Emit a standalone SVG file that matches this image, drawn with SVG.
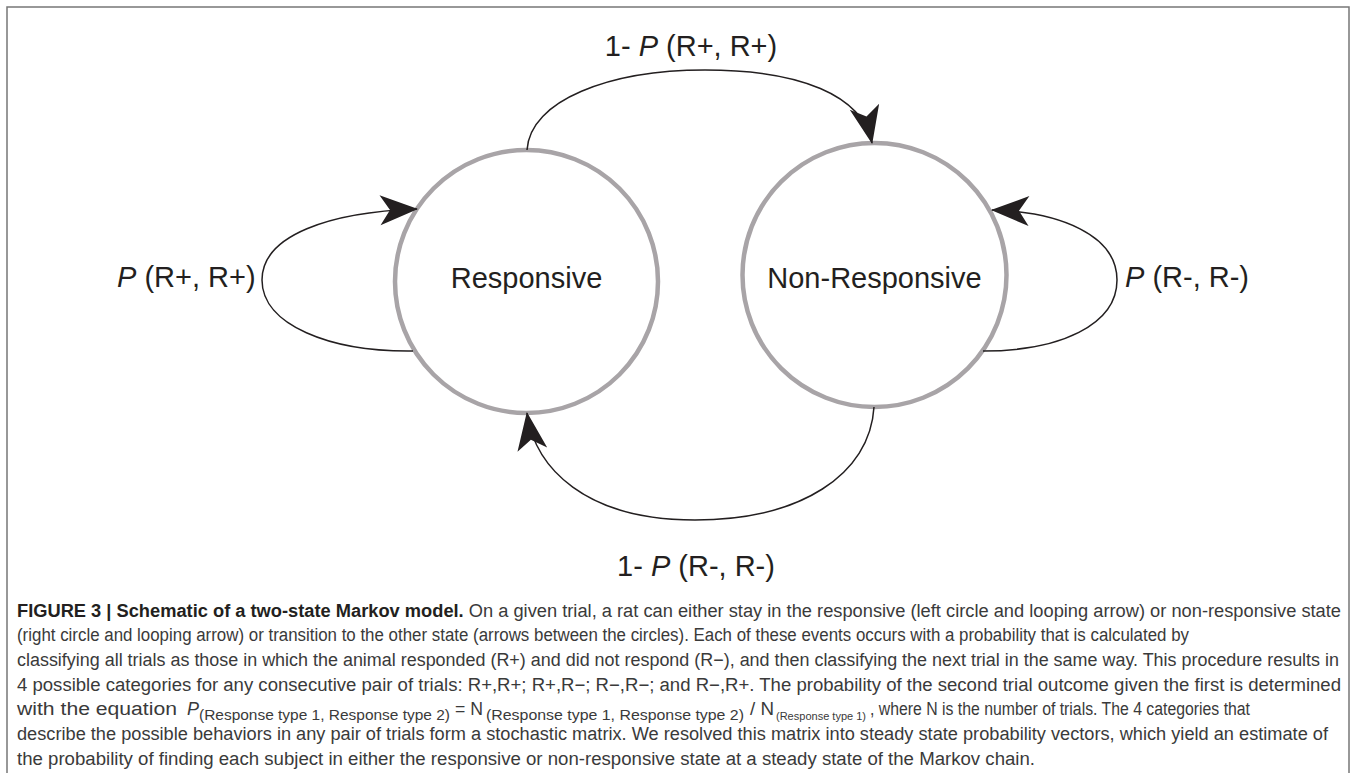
<svg xmlns="http://www.w3.org/2000/svg" width="1357" height="773" viewBox="0 0 1357 773">
<style>
.lbl{font-family:"Liberation Sans",Arial,sans-serif;font-size:29px;fill:#231f20}
.it{font-style:italic}
.node{fill:#fff;stroke:#a8a4a7;stroke-width:4.5}
.edge{fill:none;stroke:#231f20;stroke-width:1.5}
.cap{font-family:"Liberation Sans",Arial,sans-serif;font-size:18px;fill:#3a3a3a}
.sub{font-size:14px}
.sub3{font-size:11.5px}
.b{font-weight:bold;fill:#231f20}
</style>
<defs>
<marker id="ah" markerUnits="userSpaceOnUse" markerWidth="50" markerHeight="40" viewBox="-40 -20 44 40" refX="0" refY="0" orient="auto">
<path d="M1,0 L-37,-15 L-27,0 L-37,15 Z" fill="#231f20"/>
</marker>
</defs>
<rect width="1357" height="773" fill="#fff"/>
<path d="M7,773 V7 H1349 V773" fill="none" stroke="#777" stroke-width="1.5"/>

<g id="responsive">
<circle class="node" cx="526.5" cy="281.5" r="131.5"/>
<text class="lbl" x="526.5" y="288" text-anchor="middle">Responsive</text>
</g>
<g id="non-responsive">
<circle class="node" cx="874.5" cy="275" r="132"/>
<text class="lbl" x="874.5" y="288" text-anchor="middle">Non-Responsive</text>
</g>

<g id="connectors">
<path class="edge" d="M527,150 C530,100 610,70 705,70 C800,70 862,95 872,143" marker-end="url(#ah)"/>
<path class="edge" d="M874,407 C870,475 800,520 695,520 C585,520 535,468 527,413" marker-end="url(#ah)"/>
<path class="edge" d="M413,351 C330,352 262,325 262,280 C262,235 330,212 417,209" marker-end="url(#ah)"/>
<path class="edge" d="M983,351 C1060,351 1117,325 1117,280 C1117,235 1060,212 992,210" marker-end="url(#ah)"/>
</g>

<g id="edge-labels">
<text class="lbl" x="691" y="56" text-anchor="middle">1- <tspan class="it">P</tspan> (R+, R+)</text>
<text class="lbl" x="696" y="576" text-anchor="middle">1- <tspan class="it">P</tspan> (R-, R-)</text>
<text class="lbl" x="117" y="287"><tspan class="it">P</tspan> (R+, R+)</text>
<text class="lbl" x="1125" y="287"><tspan class="it">P</tspan> (R-, R-)</text>
</g>

<g id="caption">
<text class="cap" x="17" y="617" textLength="1324" lengthAdjust="spacingAndGlyphs"><tspan class="b">FIGURE 3 | Schematic of a two-state Markov model.</tspan> On a given trial, a rat can either stay in the responsive (left circle and looping arrow) or non-responsive state</text>
<text class="cap" x="17" y="641" textLength="1172" lengthAdjust="spacingAndGlyphs">(right circle and looping arrow) or transition to the other state (arrows between the circles). Each of these events occurs with a probability that is calculated by</text>
<text class="cap" x="17" y="666" textLength="1322" lengthAdjust="spacingAndGlyphs">classifying all trials as those in which the animal responded (R+) and did not respond (R−), and then classifying the next trial in the same way. This procedure results in</text>
<text class="cap" x="17" y="691" textLength="1324" lengthAdjust="spacingAndGlyphs">4 possible categories for any consecutive pair of trials: R+,R+; R+,R−; R−,R−; and R−,R+. The probability of the second trial outcome given the first is determined</text>
<text class="cap" x="17" y="715" textLength="160" lengthAdjust="spacingAndGlyphs">with the equation</text>
<text class="cap it" x="187" y="715">P</text>
<text class="cap sub" x="199" y="720" textLength="251" lengthAdjust="spacingAndGlyphs">(Response type 1, Response type 2)</text>
<text class="cap" x="455" y="715" textLength="28" lengthAdjust="spacingAndGlyphs">= N</text>
<text class="cap sub" x="486" y="720" textLength="258" lengthAdjust="spacingAndGlyphs">(Response type 1, Response type 2)</text>
<text class="cap" x="750" y="715" textLength="24" lengthAdjust="spacingAndGlyphs">/ N</text>
<text class="cap sub3" x="776" y="720" textLength="90" lengthAdjust="spacingAndGlyphs">(Response type 1)</text>
<text class="cap" x="870" y="715" textLength="380" lengthAdjust="spacingAndGlyphs">, where N is the number of trials. The 4 categories that</text>
<text class="cap" x="17" y="740" textLength="1311" lengthAdjust="spacingAndGlyphs">describe the possible behaviors in any pair of trials form a stochastic matrix. We resolved this matrix into steady state probability vectors, which yield an estimate of</text>
<text class="cap" x="17" y="765" textLength="1018" lengthAdjust="spacingAndGlyphs">the probability of finding each subject in either the responsive or non-responsive state at a steady state of the Markov chain.</text>
</g>
</svg>
